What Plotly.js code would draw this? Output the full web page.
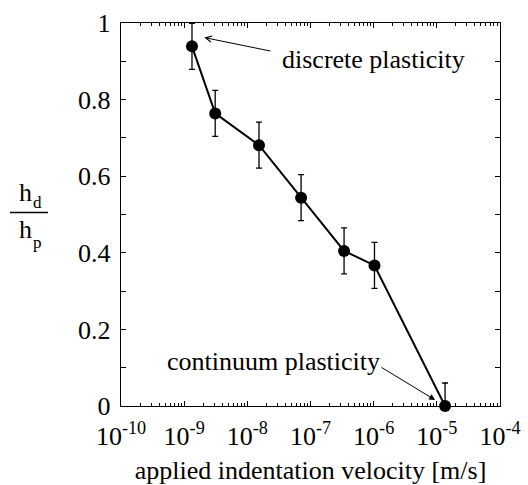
<!DOCTYPE html>
<html>
<head>
<meta charset="utf-8">
<script src="https://cdn.plot.ly/plotly-3.0.1.min.js"></script>
<style>html,body{margin:0;padding:0;background:#fff}#chart{width:528px;height:485px}</style>
</head>
<body>
<div id="chart"></div>
<script>
// Data
const velocity = [1.33e-9, 3.1e-9, 1.53e-8, 7.1e-8, 3.4e-7, 1.03e-6, 1.35e-5];
const ratio = [0.939, 0.764, 0.681, 0.544, 0.405, 0.367, 0.0];
const ratioErr = [0.06, 0.06, 0.06, 0.06, 0.06, 0.06, 0.06];
const xTickVals = [1e-10, 1e-9, 1e-8, 1e-7, 1e-6, 1e-5, 1e-4];
const xTickText = ['10<sup>-10</sup>', '10<sup>-9</sup>', '10<sup>-8</sup>', '10<sup>-7</sup>', '10<sup>-6</sup>', '10<sup>-5</sup>', '10<sup>-4</sup>'];
const yTickVals = [0, 0.2, 0.4, 0.6, 0.8, 1];
const yTickText = ['0', '0.2', '0.4', '0.6', '0.8', '1'];

const minorX = [];
for (let e = -10; e < -4; e++) for (let m = 2; m <= 9; m++) minorX.push(m * Math.pow(10, e));

const FONT = 'Liberation Serif';
const W = 528, H = 485, L = 121, R = 28, T = 23, B = 79;
const pw = W - L - R, ph = H - T - B;
const px = v => (v - L) / pw;
const py = v => (H - B - v) / ph;

const trace = {
  x: velocity, y: ratio, type: 'scatter', mode: 'lines+markers',
  line: {color: '#000', width: 2},
  marker: {color: '#000', size: 12},
  error_y: {type: 'data', array: ratioErr, visible: true, color: '#000', thickness: 1.3, width: 3},
  cliponaxis: false, hoverinfo: 'none'
};

const axisCommon = {
  showgrid: false, zeroline: false, showline: true, linecolor: '#000', linewidth: 1.3,
  mirror: 'allticks', ticks: 'inside', ticklen: 5, tickwidth: 1, tickcolor: '#000',
  tickfont: {family: FONT, size: 26}
};

const layout = {
  width: W, height: H,
  margin: {l: L, r: R, t: T, b: B},
  paper_bgcolor: '#fff', plot_bgcolor: '#fff',
  showlegend: false,
  font: {family: FONT, size: 26, color: '#000000'},
  xaxis: Object.assign({}, axisCommon, {
    type: 'log', range: [-10, -4], tickmode: 'array', tickvals: xTickVals, ticktext: xTickText,
    ticklabelstandoff: 6,
    minor: {tickmode: 'array', tickvals: minorX, ticks: 'inside', ticklen: 3, tickwidth: 1, tickcolor: '#000'},
    title: {text: 'applied indentation velocity [m/s]', font: {family: FONT, size: 26}, standoff: 18},
    automargin: false
  }),
  yaxis: Object.assign({}, axisCommon, {
    range: [0, 1], tickmode: 'array', tickvals: yTickVals, ticktext: yTickText,
    ticklabelstandoff: 4,
    minor: {tickmode: 'array', tickvals: [0.1, 0.3, 0.5, 0.7, 0.9], ticks: 'inside', ticklen: 5, tickwidth: 1, tickcolor: '#000'},
    automargin: false
  }),
  shapes: [
    {type: 'line', xref: 'paper', yref: 'paper', x0: px(10), x1: px(48), y0: py(212.5), y1: py(212.5), line: {color: '#000', width: 1.3}}
  ],
  annotations: [
    {xref: 'paper', yref: 'paper', x: px(25.8), y: py(192), text: 'h', showarrow: false, font: {family: FONT, size: 26}, xanchor: 'center', yanchor: 'middle'},
    {xref: 'paper', yref: 'paper', x: px(37.5), y: py(202), text: 'd', showarrow: false, font: {family: FONT, size: 17}, xanchor: 'center', yanchor: 'middle'},
    {xref: 'paper', yref: 'paper', x: px(25.8), y: py(229), text: 'h', showarrow: false, font: {family: FONT, size: 26}, xanchor: 'center', yanchor: 'middle'},
    {xref: 'paper', yref: 'paper', x: px(37.5), y: py(242), text: 'p', showarrow: false, font: {family: FONT, size: 17}, xanchor: 'center', yanchor: 'middle'},
    {xref: 'x', yref: 'y', x: -6.0, y: 0.904, text: 'discrete plasticity', showarrow: false, font: {family: FONT, size: 26}, xanchor: 'center', yanchor: 'middle'},
    {xref: 'x', yref: 'y', x: -7.593, y: 0.116, text: 'continuum plasticity', showarrow: false, font: {family: FONT, size: 26}, xanchor: 'center', yanchor: 'middle'},
    {xref: 'x', yref: 'y', axref: 'x', ayref: 'y', x: -8.682, y: 0.962, ax: -7.611, ay: 0.926, text: '', showarrow: true, arrowhead: 5, arrowsize: 1.2, arrowwidth: 1, arrowcolor: '#000'},
    {xref: 'x', yref: 'y', axref: 'x', ayref: 'y', x: -5.027, y: 0.0157, ax: -5.898, ay: 0.103, text: '', showarrow: true, arrowhead: 2, arrowsize: 1.2, arrowwidth: 1, arrowcolor: '#000'}
  ]
};

Plotly.newPlot('chart', [trace], layout, {displayModeBar: false, staticPlot: true});
</script>
</body>
</html>
